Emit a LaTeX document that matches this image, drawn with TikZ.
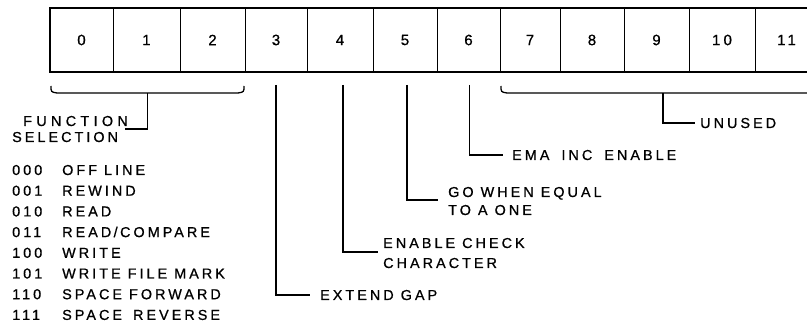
\documentclass[tikz,border=0pt]{standalone}
\usepackage{fontspec}
\setmainfont{Liberation Sans}[LetterSpace=21,FakeBold=0.8]
\usetikzlibrary{calc}
\begin{document}
\begin{tikzpicture}[x=1pt,y=-1pt,
  lbl/.style={font=\fontsize{14.4}{16}\selectfont, inner sep=0pt, anchor=base west},
  cell/.style={draw, line width=0.9pt, minimum height=64pt, inner sep=0pt, outer sep=0pt,
    font=\fontsize{15}{16}\selectfont},
  conn/.style={line width=1.3pt, line cap=butt, line join=miter},
]
\useasboundingbox (0,0) rectangle (807,331);
\clip (0,0) rectangle (807,331);

% register cells
\foreach \i/\l/\r in {0/50/113, 1/113/180, 2/180/245, 3/245/307, 4/307/373, 5/373/437,
                      6/437/500, 7/500/560, 8/560/624, 9/624/689, 10/689/755, 11/755/818}
  \node[cell, minimum width={\r pt-\l pt}] (c\i) at ({(\l+\r)/2},40) {\i};
\draw[line width=2pt] (c0.north west) rectangle (c11.south east);

% function selection brace
\coordinate (fL) at ($(c0.south west)+(1,14)$);
\coordinate (fR) at ($(c2.south east)+(-1,14)$);
\coordinate (fM) at ($(fL)!0.5!(fR)+(0,7)$);
\coordinate (fe) at (125,129);
\draw[conn] (fL) .. controls ($(fL)+(0,6)$) .. ($(fL)+(6,7)$) -- ($(fR)+(-6,7)$)
  .. controls ($(fR)+(0,6)$) .. (fR);
\draw[conn] (fM) |- (fe);
\node[lbl] (fun1) at (23,126) {\addfontfeature{LetterSpace=30}FUNCTION};
\node[lbl] (fun2) at (12,142) {SELECTION};

% unused brace
\coordinate (uL) at ($(c7.south west)+(1,14)$);
\coordinate (uR) at ($(c11.south east)+(-1,14)$);
\coordinate (uM) at (663,93);
\coordinate (ue) at (695,123);
\draw[conn] (uL) .. controls ($(uL)+(0,6)$) .. ($(uL)+(6,7)$) -- ($(uR)+(-6,7)$)
  .. controls ($(uR)+(0,6)$) .. (uR);
\draw[conn] (uM) |- (ue);
\node[lbl] (unused) at (700,128) {UNUSED};

% bit 3
\coordinate (t3) at ($(c3.south)+(0,13)$);
\coordinate (e3) at (310,295);
\draw[conn] (t3) |- (e3);
\node[lbl] (ext) at (320,300) {EXTEND GAP};

% bit 4
\coordinate (t4) at ($(c4.south)+(3,13)$);
\coordinate (e4) at (378,252);
\draw[conn] (t4) |- (e4);
\node[lbl] (ecc1) at (383,248) {ENABLE CHECK};
\node[lbl] (ecc2) at (383,268) {CHARACTER};

% bit 5
\coordinate (t5) at ($(c5.south)+(2,13)$);
\coordinate (e5) at (438,200);
\draw[conn] (t5) |- (e5);
\node[lbl] (go1) at (448,197) {GO WHEN EQUAL};
\node[lbl] (go2) at (448,215) {TO A ONE};

% bit 6
\coordinate (t6) at ($(c6.south)+(1,13)$);
\coordinate (e6) at (503,155);
\draw[conn] (t6) |- (e6);
\node[lbl] (ema) at (512,160) {EMA\hspace{5pt} INC\hspace{5pt} ENABLE};

% function codes
\foreach \k/\code/\txt in {0/000/OFF LINE, 1/001/REWIND, 2/010/READ, 3/011/{READ\,/\,COMPARE},
                           4/100/WRITE, 5/101/WRITE FILE MARK, 6/110/SPACE FORWARD,
                           7/111/SPACE\hspace{4pt} REVERSE}{
  \node[lbl] (code\k) at (12,{175+20.7*\k}) {\code};
  \node[lbl] (desc\k) at (62,{175+20.7*\k}) {\txt};
}
\end{tikzpicture}
\end{document}
